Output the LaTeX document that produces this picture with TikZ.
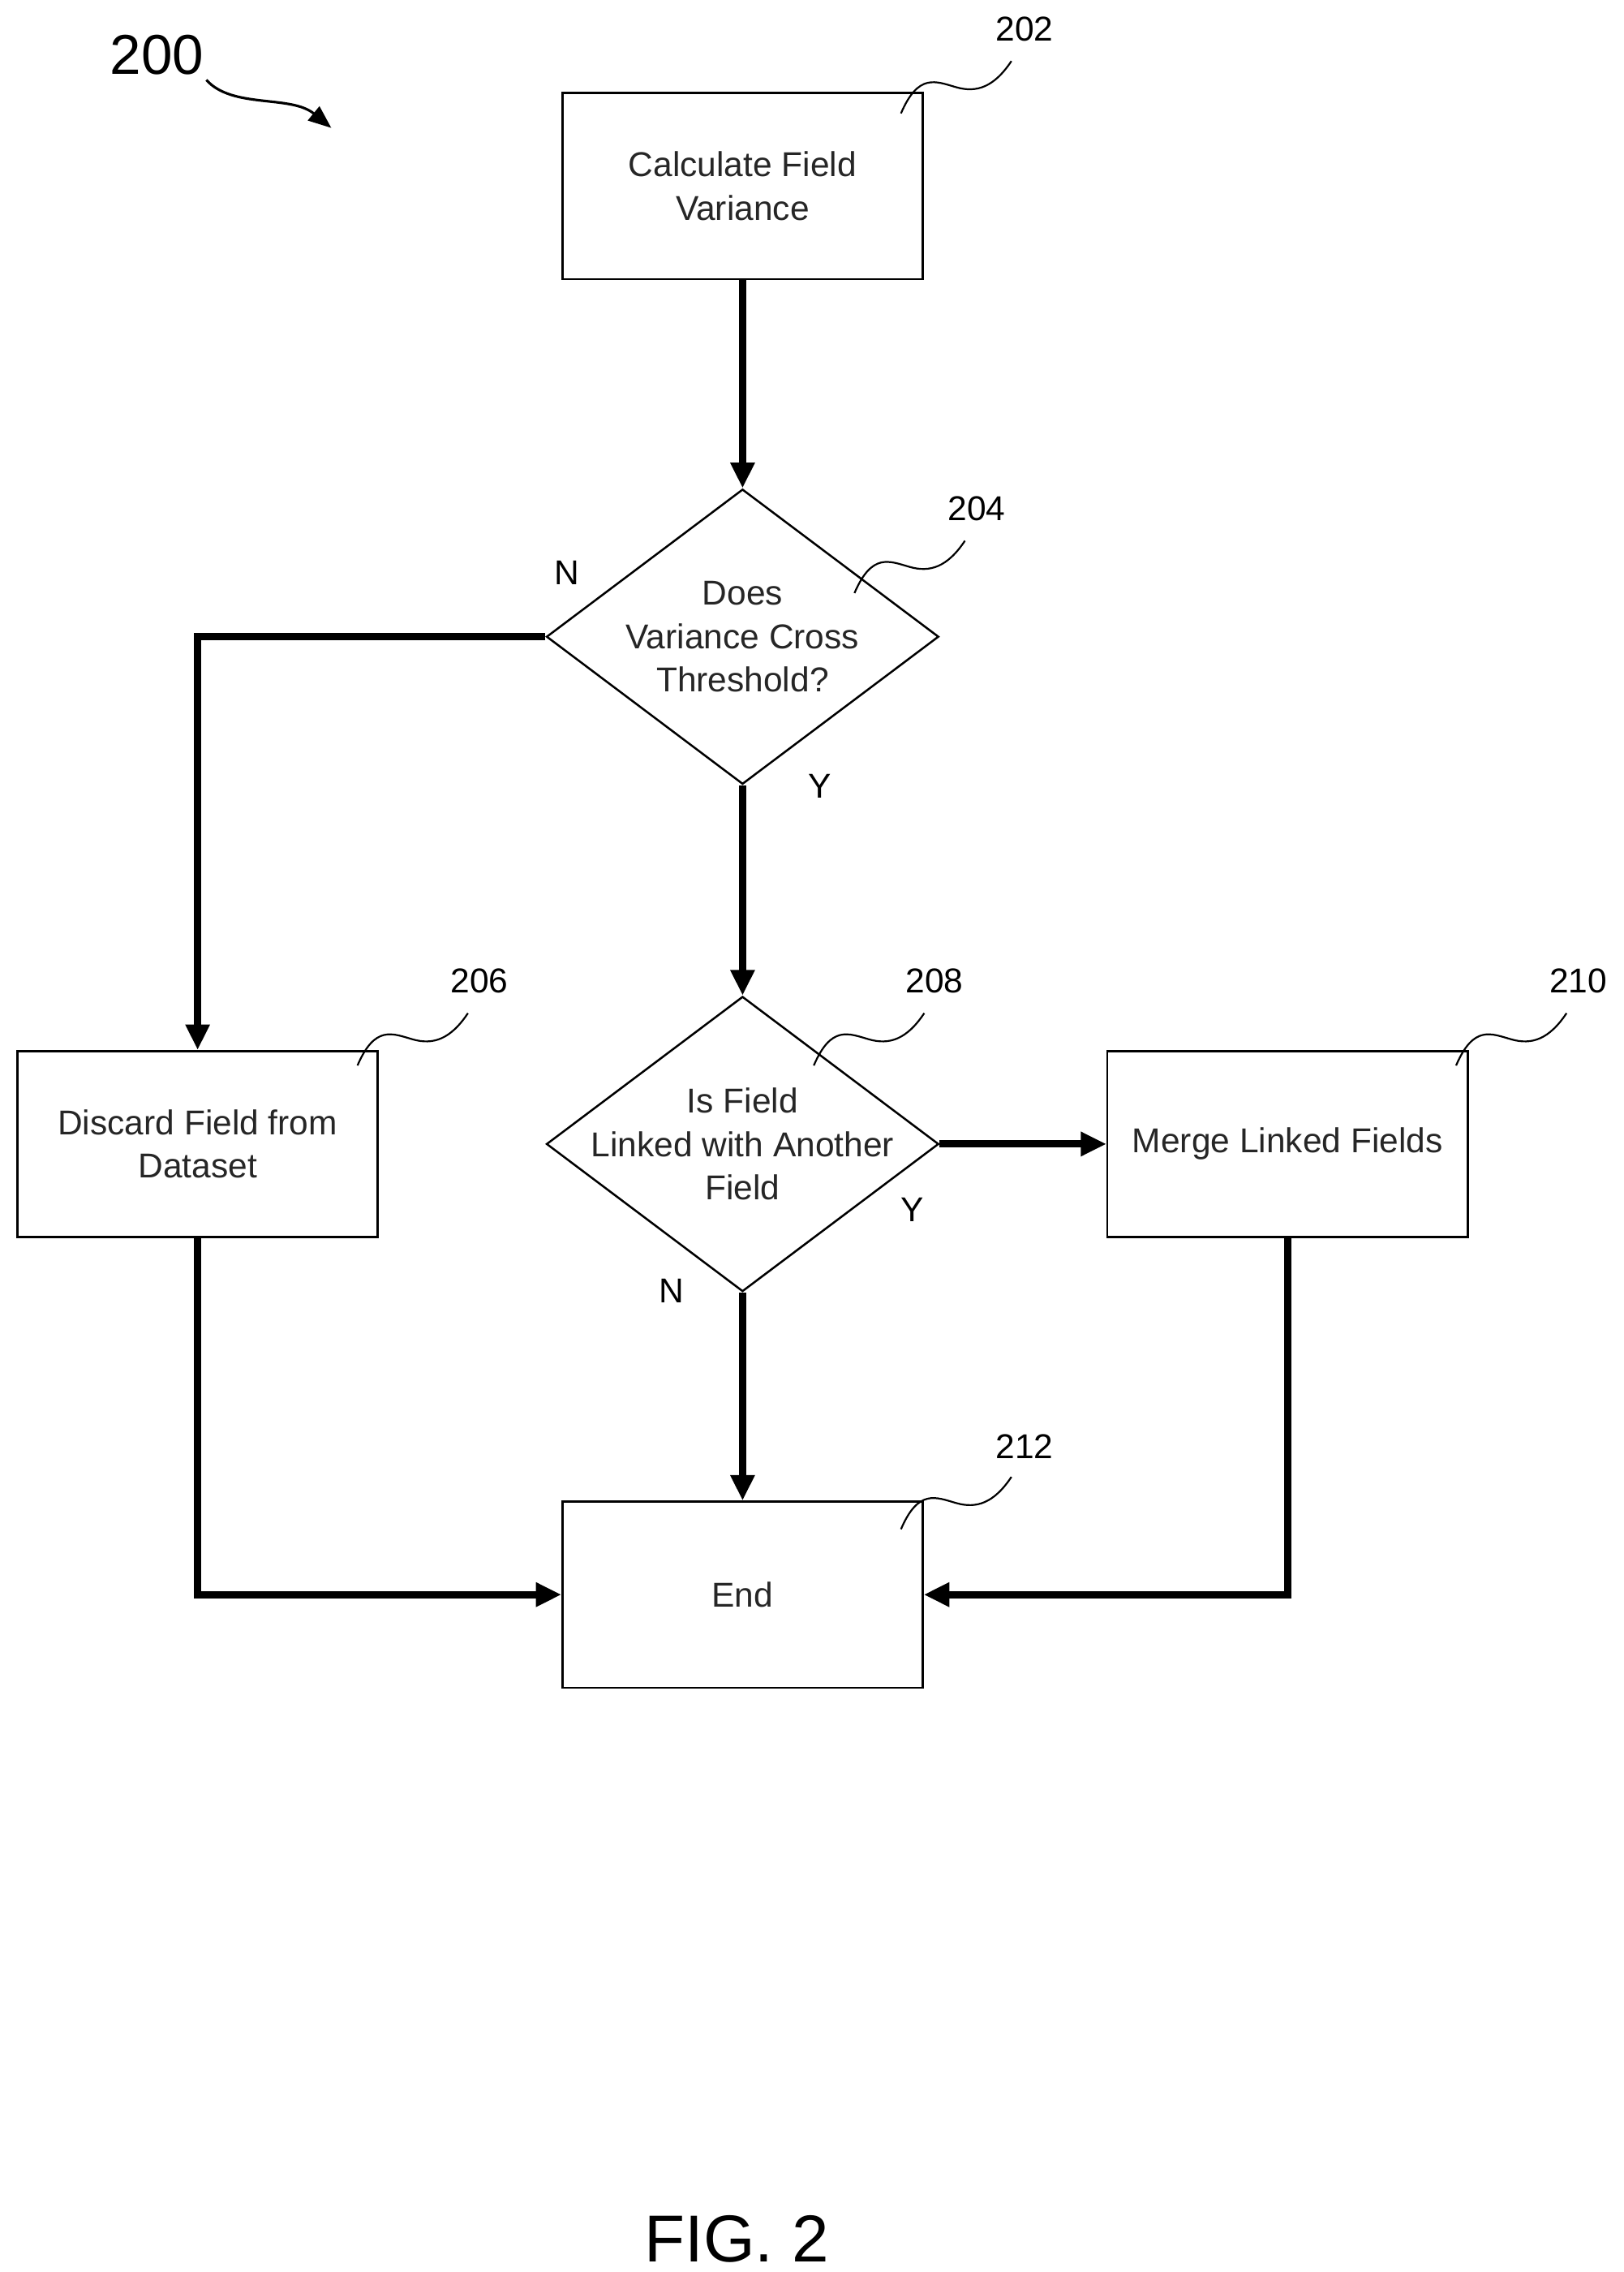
\documentclass[tikz,border=0pt]{standalone}
\usepackage{fontspec}
\setmainfont{Liberation Sans}
\usetikzlibrary{shapes.geometric,arrows.meta}
\begin{document}
\begin{tikzpicture}[x=0.02cm,y=-0.02cm,
 box/.style={draw,line width=0.8pt,minimum width=4.96cm,minimum height=2.56cm,inner sep=0},
 dia/.style={draw,diamond,line width=0.8pt,minimum width=5.4cm,minimum height=4.06cm,inner sep=0},
 txt/.style={align=center,font=\fontsize{13.5}{17}\selectfont,text=black!85},
 lab/.style={font=\fontsize{13.5}{16}\selectfont},
 flow/.style={line width=2.8pt,-{Triangle[length=10pt,width=9pt]}},
 sq/.style={line width=0.7pt}]
\useasboundingbox (0,0) rectangle (1117,1563);
\node[box] (b202) at (511,128) {};
\node[txt] at (b202) {Calculate Field\\Variance};
\node[dia] (d204) at (511,438) {};
\node[txt] at (d204) {Does\\Variance Cross\\Threshold?};
\node[box] (b206) at (136,787) {};
\node[txt] at (b206) {Discard Field from\\Dataset};
\node[dia] (d208) at (511,787) {};
\node[txt] at (d208) {Is Field\\Linked with Another\\Field};
\node[box] (b210) at (886,787) {};
\node[txt] at (b210) {Merge Linked Fields};
\node[box] (b212) at (511,1097) {};
\node[txt] at (b212) {End};

\draw[flow] (b202.south) -- (d204.north);
\draw[flow] (d204.west) -| (b206.north);
\draw[flow] (d204.south) -- (d208.north);
\draw[flow] (d208.east) -- (b210.west);
\draw[flow] (d208.south) -- (b212.north);
\draw[flow] (b206.south) |- (b212.west);
\draw[flow] (b210.south) |- (b212.east);

\node[lab] (n1) at (390,394) {N};
\node[lab] (y1) at (564,541) {Y};
\node[lab] (y2) at (628,832) {Y};
\node[lab] (n2) at (462,888) {N};

\foreach \n/\x/\y/\lx/\ly in {202/620/78/705/20, 204/588/408/672/350, 206/246/733/330/675, 208/560/733/643/675, 210/1002/733/1086/675, 212/620/1052/705/995}{
  \node[lab] (r\n) at (\lx,\ly) {\n};
  \draw[sq] (\x,\y) .. controls +(12,-28) and +(-14,-4) .. +(38,-18) .. controls +(14,4) and +(-12,18) .. +(76,-36);
}
\node[font=\fontsize{22}{26}\selectfont] (r200) at (108,38) {200};
\coordinate (a200) at (228,88);
\draw[line width=1pt,-{Triangle[length=9pt,width=7pt]}] (142,55) .. controls (160,75) and (200,65) .. (a200);
\node[font=\fontsize{26}{30}\selectfont] (fig) at (507,1540) {FIG. 2};
\end{tikzpicture}
\end{document}
